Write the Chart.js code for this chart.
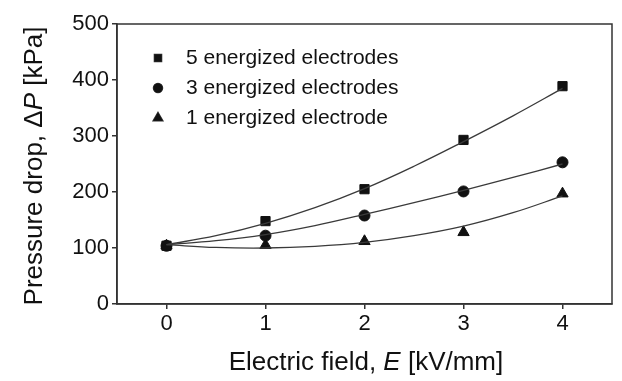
<!DOCTYPE html>
<html>
<head>
<meta charset="utf-8">
<script src="https://cdn.jsdelivr.net/npm/chart.js@4/dist/chart.umd.min.js"></script>
<style>
    html, body { margin: 0; padding: 0; background: #fff; }
    #wrap { width: 622px; height: 381px; }
</style>
</head>
<body>
<div id="wrap"><canvas id="dpChart"></canvas></div>
<script>
// measured points
const fieldValues = [0, 1, 2, 3, 4];
const fiveElectrodes = [104, 148, 205, 293, 389];
const threeElectrodes = [104, 122, 158, 201, 253];
const oneElectrode = [104, 105, 112, 128, 197];

// fitted curves
const curveX = [0, 0.5, 1, 1.5, 2, 2.5, 3, 3.5, 4];
const fiveCurve = [106, 122, 144, 172, 206, 246, 290, 336, 385];
const threeCurve = [106, 113, 124, 140, 160, 181, 203, 226, 250];
const oneCurve = [106, 101, 100, 103, 110, 122, 139, 163, 193];

const seriesLabels = ['5 energized electrodes', '3 energized electrodes', '1 energized electrode'];
const yTicks = [0, 100, 200, 300, 400, 500];

const FONT = 'Liberation Sans, Arial, sans-serif';
const INK = '#111';

function toPoints(xs, ys) {
    return xs.map((x, i) => ({ x: x, y: ys[i] }));
}

function markerSet(label, ys, style, radius) {
    return {
        label: label,
        data: toPoints(fieldValues, ys),
        showLine: false,
        pointStyle: style,
        pointRadius: radius,
        pointBackgroundColor: INK,
        pointBorderColor: INK,
        pointBorderWidth: 1
    };
}

function curveSet(ys) {
    return {
        label: '',
        data: toPoints(curveX, ys),
        showLine: true,
        borderColor: '#3a3a3a',
        borderWidth: 1.3,
        tension: 0.4,
        pointRadius: 0
    };
}

// frame, axis titles and inside legend
const decorations = {
    id: 'decorations',
    afterDraw(chart) {
        const { ctx, chartArea: a } = chart;
        ctx.save();
        ctx.strokeStyle = '#333';
        ctx.lineWidth = 1.5;
        ctx.strokeRect(a.left, a.top, a.right - a.left, a.bottom - a.top);

        ctx.fillStyle = INK;
        ctx.textBaseline = 'middle';

        // x title with italic E
        const xParts = [['Electric field, ', ''], ['E', 'italic '], [' [kV/mm]', '']];
        drawMixed(ctx, xParts, 366, 363);

        // y title rotated
        ctx.save();
        ctx.translate(35, 166);
        ctx.rotate(-Math.PI / 2);
        const yParts = [['Pressure drop, \u0394', ''], ['P', 'italic '], [' [kPa]', '']];
        drawMixed(ctx, yParts, 0, 0);
        ctx.restore();

        // legend
        const markerDefs = [['rect', 5], ['circle', 4.5], ['triangle', 5.5]];
        ctx.font = '21px ' + FONT;
        ctx.textAlign = 'left';
        seriesLabels.forEach((lbl, i) => {
            const y = 58 + i * 30;
            Chart.helpers.drawPoint(ctx, { pointStyle: markerDefs[i][0], radius: markerDefs[i][1], borderWidth: 1 }, 158, y);
            ctx.fill();
            ctx.fillText(lbl, 186, y);
        });
        ctx.restore();
    }
};

function drawMixed(ctx, parts, cx, cy) {
    let total = 0;
    parts.forEach(p => {
        ctx.font = p[1] + '26px ' + FONT;
        total += ctx.measureText(p[0]).width;
    });
    let x = cx - total / 2;
    ctx.textAlign = 'left';
    parts.forEach(p => {
        ctx.font = p[1] + '26px ' + FONT;
        ctx.fillText(p[0], x, cy);
        x += ctx.measureText(p[0]).width;
    });
}

new Chart(document.getElementById('dpChart'), {
    type: 'scatter',
    data: {
        datasets: [
            curveSet(fiveCurve),
            curveSet(threeCurve),
            curveSet(oneCurve),
            markerSet(seriesLabels[0], fiveElectrodes, 'rect', 6.5),
            markerSet(seriesLabels[1], threeElectrodes, 'circle', 5.5),
            markerSet(seriesLabels[2], oneElectrode, 'triangle', 6.5)
        ]
    },
    options: {
        responsive: true,
        maintainAspectRatio: false,
        animation: false,
        layout: { padding: { top: 24, right: 10, left: 0, bottom: 0 } },
        plugins: {
            legend: { display: false },
            tooltip: { enabled: false }
        },
        scales: {
            x: {
                type: 'linear',
                min: -0.5,
                max: 4.5,
                afterBuildTicks: axis => { axis.ticks = fieldValues.map(v => ({ value: v })); },
                afterFit: axis => { axis.height = 77; },
                grid: { display: true, drawOnChartArea: false, drawTicks: true, tickLength: 5, color: '#333', lineWidth: 1.5 },
                border: { display: true, color: '#333', width: 1.5 },
                ticks: { color: INK, font: { family: FONT, size: 22 }, padding: 2 }
            },
            y: {
                min: 0,
                max: 500,
                afterBuildTicks: axis => { axis.ticks = yTicks.map(v => ({ value: v })); },
                afterFit: axis => { axis.width = 117; },
                grid: { display: true, drawOnChartArea: false, drawTicks: true, tickLength: 5, color: '#333', lineWidth: 1.5 },
                border: { display: true, color: '#333', width: 1.5 },
                ticks: { color: INK, font: { family: FONT, size: 22 }, padding: 3 }
            }
        }
    },
    plugins: [decorations]
});
</script>
</body>
</html>
